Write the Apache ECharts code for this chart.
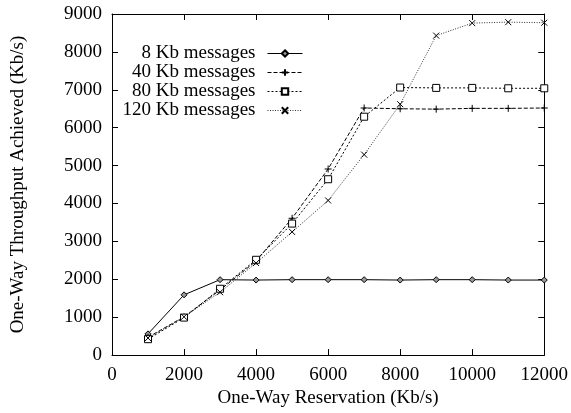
<!DOCTYPE html>
<html>
<head>
<meta charset="utf-8">
<script src="https://cdn.jsdelivr.net/npm/echarts@6/dist/echarts.min.js"></script>
<style>
html,body{margin:0;padding:0;background:#fff;}
#chart{width:571px;height:413px;}
</style>
</head>
<body>
<div id="chart"></div>
<script>
var reservations = [1000, 2000, 3000, 4000, 5000, 6000, 7000, 8000, 9000, 10000, 11000, 12000];
var kb8   = [560, 1590, 1990, 1980, 1990, 1990, 1990, 1980, 1990, 1990, 1980, 1980];
var kb40  = [470, 1010, 1720, 2480, 3610, 4910, 6520, 6500, 6490, 6510, 6510, 6520];
var kb80  = [420, 990, 1750, 2515, 3470, 4640, 6290, 7060, 7050, 7050, 7040, 7040];
var kb120 = [450, 1010, 1660, 2430, 3250, 4080, 5290, 6620, 8430, 8760, 8785, 8770];
var seriesNames = ['8 Kb messages', '40 Kb messages', '80 Kb messages', '120 Kb messages'];
var xTicks = [0, 2000, 4000, 6000, 8000, 10000, 12000];
var yTicks = [0, 1000, 2000, 3000, 4000, 5000, 6000, 7000, 8000, 9000];

function pairs(vals) { return reservations.map(function (x, i) { return [x, vals[i]]; }); }
function plain(v) { return String(v); }

var FONT = 'Liberation Serif';
var plusPath = 'path://M0,5L10,5M5,0L5,10';
var crossPath = 'path://M0,0L10,10M10,0L0,10';

var chart = echarts.init(document.getElementById('chart'), null, {renderer: 'canvas'});
function axisBase() {
  return {
    type: 'value',
    axisLine: {show: true, onZero: false, lineStyle: {color: '#000', width: 1}},
    axisTick: {show: true, inside: true, length: 6, lineStyle: {color: '#000'}},
    splitLine: {show: false}
  };
}
chart.setOption({
  animation: false,
  backgroundColor: '#fff',
  grid: {left: 112, right: 25, top: 14, bottom: 53, containLabel: false},
  legend: {
    orient: 'vertical',
    right: 268,
    top: 44,
    padding: 0,
    itemGap: 0,
    itemWidth: 35,
    itemHeight: 8,
    align: 'right',
    data: seriesNames,
    lineStyle: {width: 1},
    textStyle: {fontFamily: FONT, fontSize: 19, color: '#000', lineHeight: 19, padding: [0, 7, 0, 0]}
  },
  xAxis: [
    Object.assign(axisBase(), {
      min: 0, max: 12000, interval: 2000,
      name: 'One-Way Reservation (Kb/s)', nameLocation: 'middle', nameGap: 30,
      nameTextStyle: {fontFamily: FONT, fontSize: 19, color: '#000'},
      axisLabel: {fontFamily: FONT, fontSize: 19, color: '#000', margin: 10, formatter: plain}
    }),
    Object.assign(axisBase(), {
      position: 'top', min: 0, max: 12000, interval: 2000, axisLabel: {show: false}
    })
  ],
  yAxis: [
    Object.assign(axisBase(), {
      min: 0, max: 9000, interval: 1000,
      name: 'One-Way Throughput Achieved (Kb/s)', nameLocation: 'middle', nameGap: 84,
      nameTextStyle: {fontFamily: FONT, fontSize: 19, color: '#000'},
      axisLabel: {fontFamily: FONT, fontSize: 19, color: '#000', margin: 10, formatter: plain}
    }),
    Object.assign(axisBase(), {
      position: 'right', min: 0, max: 9000, interval: 1000, axisLabel: {show: false}
    })
  ],
  series: [
    {
      name: seriesNames[0], type: 'line', data: pairs(kb8),
      symbol: 'diamond', symbolSize: 6,
      lineStyle: {color: '#000', width: 1, type: 'solid'},
      itemStyle: {color: '#999', borderColor: '#000', borderWidth: 1}
    },
    {
      name: seriesNames[1], type: 'line', data: pairs(kb40),
      symbol: plusPath, symbolSize: 7,
      lineStyle: {color: '#000', width: 1, type: [4, 2]},
      itemStyle: {color: '#000', borderColor: '#000', borderWidth: 1}
    },
    {
      name: seriesNames[2], type: 'line', data: pairs(kb80),
      symbol: 'rect', symbolSize: 7,
      lineStyle: {color: '#000', width: 1, type: [2, 2]},
      itemStyle: {color: '#fff', borderColor: '#000', borderWidth: 1}
    },
    {
      name: seriesNames[3], type: 'line', data: pairs(kb120),
      symbol: crossPath, symbolSize: 6,
      lineStyle: {color: '#333', width: 1, type: [1, 1.5]},
      itemStyle: {color: '#000', borderColor: '#000', borderWidth: 1}
    }
  ]
});
</script>
</body>
</html>
